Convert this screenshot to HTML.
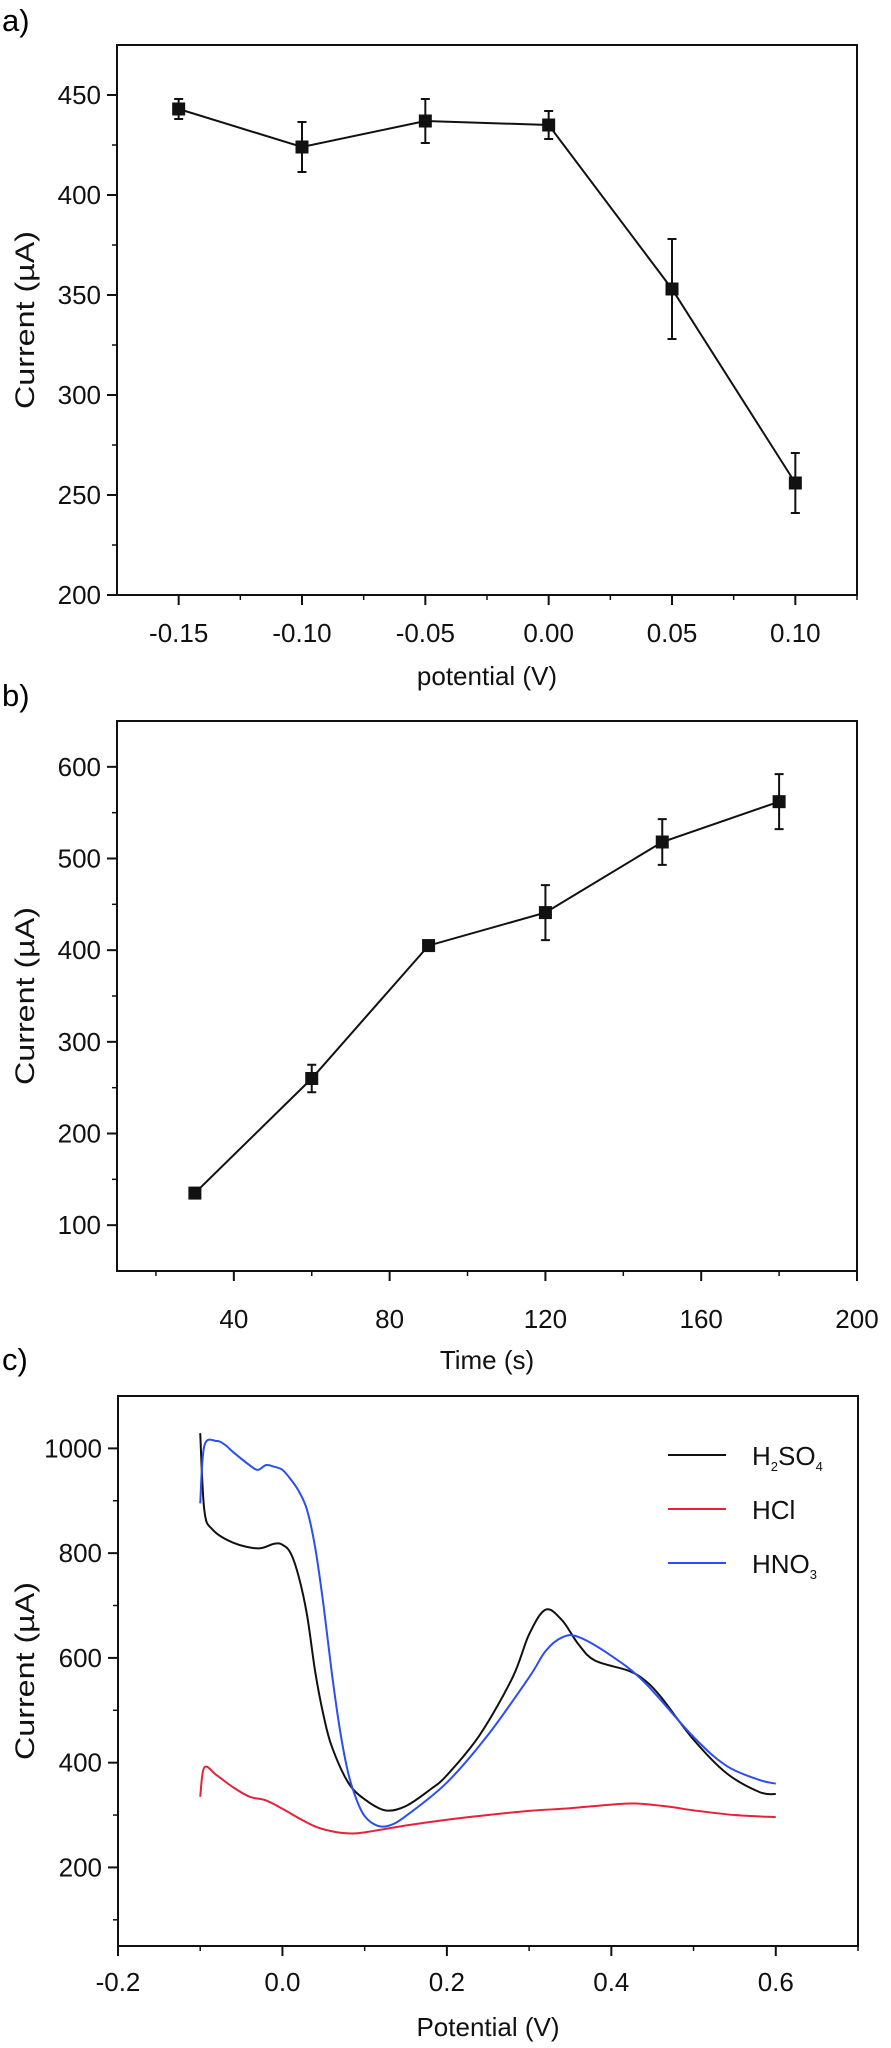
<!DOCTYPE html>
<html><head><meta charset="utf-8">
<style>
html,body{margin:0;padding:0;background:#fff;}
svg{display:block;font-family:"Liberation Sans",Arial,sans-serif;}
</style></head>
<body>
<svg id="fig" width="891" height="2048" viewBox="0 0 891 2048" xmlns="http://www.w3.org/2000/svg">
<text x="2" y="31" font-size="31">a)</text>
<text x="2" y="706" font-size="31">b)</text>
<text x="2" y="1370" font-size="31">c)</text>
</svg>
<script>
// ---------- Panel a data ----------
const aX = [-0.15, -0.10, -0.05, 0.00, 0.05, 0.10];
const aY = [443, 424, 437, 435, 353, 256];
const aErr = [5, 12.5, 11, 7, 25, 15];
const aXTicks = ["-0.15","-0.10","-0.05","0.00","0.05","0.10"];
const aXTickVals = [-0.15,-0.10,-0.05,0.00,0.05,0.10];
const aYTickVals = [200,250,300,350,400,450];
// ---------- Panel b data ----------
const bX = [30, 60, 90, 120, 150, 180];
const bY = [135, 260, 405, 441, 518, 562];
const bErr = [5, 15, 5, 30, 25, 30];
const bXTickVals = [40,80,120,160,200];
const bYTickVals = [100,200,300,400,500,600];
// ---------- Panel c data ----------
const cH2SO4X = [-0.1,-0.095,-0.085,-0.06,-0.03,-0.01,0.0,0.01,0.02,0.03,0.04,0.05,0.06,0.08,0.1,0.125,0.15,0.18,0.2,0.24,0.28,0.3,0.32,0.34,0.36,0.38,0.42,0.44,0.46,0.5,0.54,0.58,0.6];
const cH2SO4Y = [1029,882,845,820,809,818,816,800,754,681,572,490,431,362,330,309,317,349,376,453,563,645,692,672,626,595,576,558,526,444,380,344,340];
const cHNO3X = [-0.1,-0.095,-0.08,-0.07,-0.06,-0.04,-0.03,-0.02,-0.01,0.0,0.01,0.02,0.03,0.04,0.05,0.06,0.07,0.08,0.09,0.1,0.115,0.13,0.15,0.2,0.25,0.3,0.32,0.34,0.36,0.4,0.44,0.5,0.54,0.58,0.6];
const cHNO3Y = [895,1005,1014,1007,993,968,959,968,965,959,941,918,882,809,700,572,462,380,330,298,280,280,298,362,453,563,613,639,640,604,554,449,394,367,360];
const cHClX = [-0.1,-0.095,-0.08,-0.06,-0.04,-0.02,0.0,0.02,0.04,0.06,0.08,0.1,0.15,0.2,0.25,0.3,0.35,0.4,0.43,0.47,0.5,0.55,0.6];
const cHClY = [335,391,376,353,335,328,312,294,278,269,265,267,280,291,300,308,313,320,322,316,309,300,296];
const cXTickVals = [-0.2,0.0,0.2,0.4,0.6];
const cXTicks = ["-0.2","0.0","0.2","0.4","0.6"];
const cYTickVals = [200,400,600,800,1000];
const legendNames = ["H2SO4","HCl","HNO3"];

const NS = "http://www.w3.org/2000/svg";
const svg = document.getElementById('fig');
function mk(tag, attrs, parent){
  const e = document.createElementNS(NS, tag);
  for (const k in attrs) e.setAttribute(k, attrs[k]);
  (parent||svg).appendChild(e);
  return e;
}
function scale(d0,d1,r0,r1){ return v => r0 + (v-d0)/(d1-d0)*(r1-r0); }

function frame(g, L, T, R, B, xs, ys, xTickVals, xLabels, xMinor, yTickVals, yMinor, xTitle, yTitle, xLabY, xTitleY){
  const box = mk('rect',{x:L,y:T,width:R-L,height:B-T,fill:'none',stroke:'#111','stroke-width':2},g);
  
  
  xTickVals.forEach((v,i)=>{
    const x = xs(v);
    const t = mk('line',{x1:x,y1:B,x2:x,y2:B+10,stroke:'#111','stroke-width':2},g);
    
    
    const l = mk('text',{x:x,y:xLabY,'font-size':26,'text-anchor':'middle',fill:'#111'},g);
    l.textContent = xLabels[i];
    
    
  });
  xMinor.forEach(v=>{
    const x = xs(v);
    const t = mk('line',{x1:x,y1:B,x2:x,y2:B+5,stroke:'#111','stroke-width':1.5},g);
    
    
  });
  yTickVals.forEach(v=>{
    const y = ys(v);
    const t = mk('line',{x1:L-10,y1:y,x2:L,y2:y,stroke:'#111','stroke-width':2},g);
    
    
    const l = mk('text',{x:L-16,y:y+9,'font-size':26,'text-anchor':'end',fill:'#111'},g);
    l.textContent = String(v);
    
    
  });
  yMinor.forEach(v=>{
    const y = ys(v);
    const t = mk('line',{x1:L-5,y1:y,x2:L,y2:y,stroke:'#111','stroke-width':1.5},g);
    
    
  });
  const xt = mk('text',{x:(L+R)/2,y:xTitleY,'font-size':26,'text-anchor':'middle',fill:'#111'},g);
  xt.textContent = xTitle;
  
  
  const cy = (T+B)/2;
  const yt = mk('text',{x:0,y:0,'font-size':27,'text-anchor':'middle',fill:'#111',transform:`translate(34,${cy}) rotate(-90)`,textLength:178,lengthAdjust:'spacingAndGlyphs'},g);
  yt.textContent = yTitle;
  
  
}

function scatterPanel(g, xs, ys, X, Y, E){
  let d = '';
  X.forEach((v,i)=>{ d += (i?'L':'M') + xs(v) + ',' + ys(Y[i]); });
  const p = mk('path',{d:d,fill:'none',stroke:'#111','stroke-width':2},g);
  
  
  X.forEach((v,i)=>{
    const x = xs(v), y = ys(Y[i]), y1 = ys(Y[i]+E[i]), y2 = ys(Y[i]-E[i]);
    const eb = mk('path',{d:`M${x},${y1}L${x},${y2}M${x-4.5},${y1}L${x+4.5},${y1}M${x-4.5},${y2}L${x+4.5},${y2}`,stroke:'#111','stroke-width':2,fill:'none'},g);
    
    
    const m = mk('rect',{x:x-6.5,y:y-6.5,width:13,height:13,fill:'#111'},g);
    
    
  });
}

// Panel a
{
  const g = mk('g',{});
  
  
  const L=117,T=45,R=857,B=595;
  const xs = scale(-0.175,0.125,L,R), ys = scale(200,475,B,T);
  frame(g,L,T,R,B,xs,ys,aXTickVals,aXTicks,[-0.125,-0.075,-0.025,0.025,0.075,0.125],aYTickVals,[225,275,325,375,425],'potential (V)','Current (µA)',642,685);
  scatterPanel(g,xs,ys,aX,aY,aErr);
}
// Panel b
{
  const g = mk('g',{});
  
  
  const L=117,T=721,R=857,B=1271;
  const xs = scale(10,200,L,R), ys = scale(50,650,B,T);
  frame(g,L,T,R,B,xs,ys,bXTickVals,bXTickVals.map(String),[20,60,100,140,180],bYTickVals,[150,250,350,450,550],'Time (s)','Current (µA)',1328,1369);
  scatterPanel(g,xs,ys,bX,bY,bErr);
}
// Panel c
{
  const g = mk('g',{});
  
  
  const L=118,T=1396,R=858,B=1946;
  const xs = scale(-0.2,0.7,L,R), ys = scale(50,1100,B,T);
  frame(g,L,T,R,B,xs,ys,cXTickVals,cXTicks,[-0.1,0.1,0.3,0.5,0.7],cYTickVals,[100,300,500,700,900],'Potential (V)','Current (µA)',1991,2036);
  function smooth(X,Y){
    const P = X.map((v,i)=>[xs(v),ys(Y[i])]);
    let d = 'M'+P[0][0]+','+P[0][1];
    for(let i=0;i<P.length-1;i++){
      const p0=P[Math.max(0,i-1)],p1=P[i],p2=P[i+1],p3=P[Math.min(P.length-1,i+2)];
      const c1=[p1[0]+(p2[0]-p0[0])/6,p1[1]+(p2[1]-p0[1])/6];
      const c2=[p2[0]-(p3[0]-p1[0])/6,p2[1]-(p3[1]-p1[1])/6];
      d += `C${c1[0]},${c1[1]} ${c2[0]},${c2[1]} ${p2[0]},${p2[1]}`;
    }
    return d;
  }
  const s1 = mk('path',{d:smooth(cHClX,cHClY),fill:'none',stroke:'#e8203a','stroke-width':2},g);
  
  
  const s2 = mk('path',{d:smooth(cH2SO4X,cH2SO4Y),fill:'none',stroke:'#111','stroke-width':2},g);
  
  
  const s3 = mk('path',{d:smooth(cHNO3X,cHNO3Y),fill:'none',stroke:'#2b4ef0','stroke-width':2},g);
  
  
  // legend
  const cols = ['#111','#e8203a','#2b4ef0'];
  const labels = [['H','2','SO','4'],['HCl'],['HNO','3']];
  [1455,1509,1563].forEach((y,i)=>{
    const ln = mk('line',{x1:668,y1:y,x2:726,y2:y,stroke:cols[i],'stroke-width':2},g);
    
    
    const t = mk('text',{x:752,y:y+10,'font-size':26,fill:'#111'},g);
    
    
    labels[i].forEach((s,j)=>{
      const ts = mk('tspan',{},t);
      if (j%2===1){ ts.setAttribute('font-size','13'); ts.setAttribute('dy','6'); }
      else if (j>0){ ts.setAttribute('dy','-6'); }
      ts.textContent = s;
    });
  });
}
</script>
</body></html>
